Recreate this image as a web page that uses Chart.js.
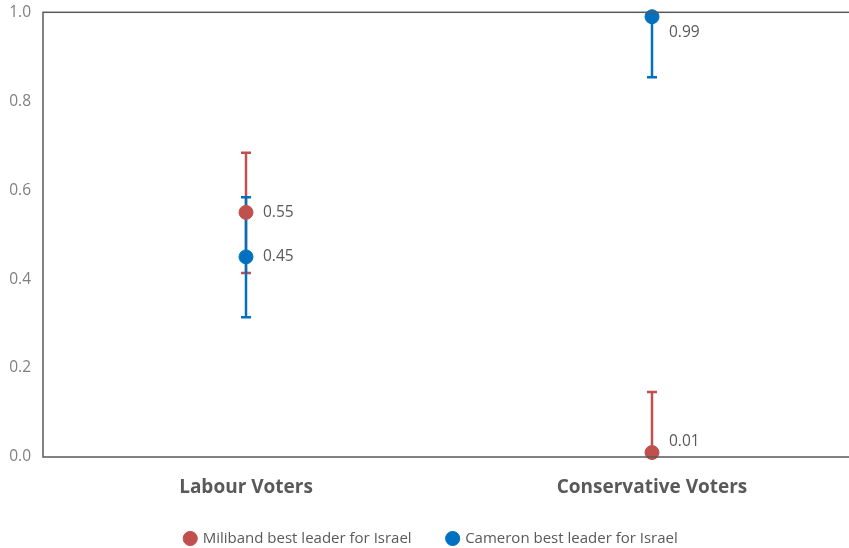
<!DOCTYPE html>
<html lang="en">
<head>
<meta charset="UTF-8">
<title>Best leader for Israel</title>
<script src="https://cdn.jsdelivr.net/npm/chart.js"></script>
<style>
    html, body { margin: 0; padding: 0; background: #fff; overflow: hidden; }
    .wrap { position: relative; top: -9px; width: 863px; height: 565px; }
</style>
</head>
<body>
<div class="wrap"><canvas id="chart"></canvas></div>
<script>
const categories = ['Labour Voters', 'Conservative Voters'];
const seriesNames = ['Miliband best leader for Israel', 'Cameron best leader for Israel'];
const milibandValues = [0.55, 0.01];
const milibandLow = [0.414, 0.0];
const milibandHigh = [0.684, 0.146];
const cameronValues = [0.45, 0.99];
const cameronLow = [0.314, 0.854];
const cameronHigh = [0.584, 1.125];
const yTicks = [0, 0.2, 0.4, 0.6, 0.8, 1.0];

const RED = '#C0504D';
const BLUE = '#0070C0';
const AXIS = '#595959';
const FONT = '"Open Sans", sans-serif';

// error bars, drawn behind the points and clipped to the plot box
const errorBars = {
    id: 'errorBars',
    beforeDatasetsDraw(chart) {
        const { ctx, chartArea, scales } = chart;
        ctx.save();
        ctx.beginPath();
        ctx.rect(chartArea.left, chartArea.top, chartArea.right - chartArea.left, chartArea.bottom - chartArea.top);
        ctx.clip();
        chart.data.datasets.forEach(ds => {
            ctx.strokeStyle = ds.borderColor;
            ctx.lineWidth = 2.5;
            ds.low.forEach((lo, i) => {
                const x = scales.x.getPixelForValue(i);
                const y1 = scales.y.getPixelForValue(lo);
                const y2 = scales.y.getPixelForValue(ds.high[i]);
                ctx.beginPath();
                ctx.moveTo(x, y1); ctx.lineTo(x, y2);
                ctx.moveTo(x - 5, y1); ctx.lineTo(x + 5, y1);
                ctx.moveTo(x - 5, y2); ctx.lineTo(x + 5, y2);
                ctx.stroke();
            });
        });
        ctx.restore();
    }
};

// plot frame and value labels
const frameAndLabels = {
    id: 'frameAndLabels',
    afterDatasetsDraw(chart) {
        const { ctx, chartArea, scales } = chart;
        ctx.save();
        ctx.strokeStyle = AXIS;
        ctx.lineWidth = 1.5;
        ctx.strokeRect(chartArea.left, chartArea.top, chartArea.right - chartArea.left, chartArea.bottom - chartArea.top);
        ctx.font = '15.5px ' + FONT;
        ctx.fillStyle = AXIS;
        ctx.textBaseline = 'middle';
        chart.data.datasets.forEach(ds => {
            ds.data.forEach((v, i) => {
                const x = scales.x.getPixelForValue(i);
                let y = scales.y.getPixelForValue(v);
                y = Math.max(y, chartArea.top + 20);
                y = Math.min(y, chartArea.bottom - 15);
                ctx.fillText(v.toFixed(2), x + 17, y);
            });
        });
        ctx.restore();
    }
};

new Chart(document.getElementById('chart'), {
    type: 'line',
    data: {
        labels: categories,
        datasets: [
            {
                label: seriesNames[0], data: milibandValues, low: milibandLow, high: milibandHigh,
                borderColor: RED, backgroundColor: RED, showLine: false,
                pointRadius: 7, pointHoverRadius: 7, clip: false
            },
            {
                label: seriesNames[1], data: cameronValues, low: cameronLow, high: cameronHigh,
                borderColor: BLUE, backgroundColor: BLUE, showLine: false,
                pointRadius: 7, pointHoverRadius: 7, clip: false
            }
        ]
    },
    options: {
        responsive: true,
        maintainAspectRatio: false,
        animation: false,
        layout: { padding: { top: 0, right: 0, left: 0, bottom: 0 } },
        scales: {
            x: {
                offset: true,
                grid: { display: false, drawTicks: false },
                border: { display: false },
                ticks: {
                    padding: 19,
                    color: AXIS,
                    font: { family: FONT, size: 19, weight: 'bold' }
                },
                afterFit(scale) { scale.height = 38; }
            },
            y: {
                min: 0, max: 1,
                afterBuildTicks(scale) { scale.ticks = yTicks.map(v => ({ value: v })); },
                grid: { display: false, drawTicks: false },
                border: { display: false },
                ticks: {
                    padding: 12,
                    color: '#7F7F7F',
                    font: { family: FONT, size: 15.5 },
                    callback: v => v.toFixed(1)
                },
                afterFit(scale) { scale.width = 43; }
            }
        },
        plugins: {
            legend: {
                position: 'bottom',
                labels: {
                    usePointStyle: true, pointStyle: 'circle', boxWidth: 10, boxHeight: 10,
                    padding: 36, color: AXIS,
                    font: { family: FONT, size: 15 }
                }
            },
            tooltip: { enabled: false }
        }
    },
    plugins: [errorBars, frameAndLabels]
});
</script>
</body>
</html>
